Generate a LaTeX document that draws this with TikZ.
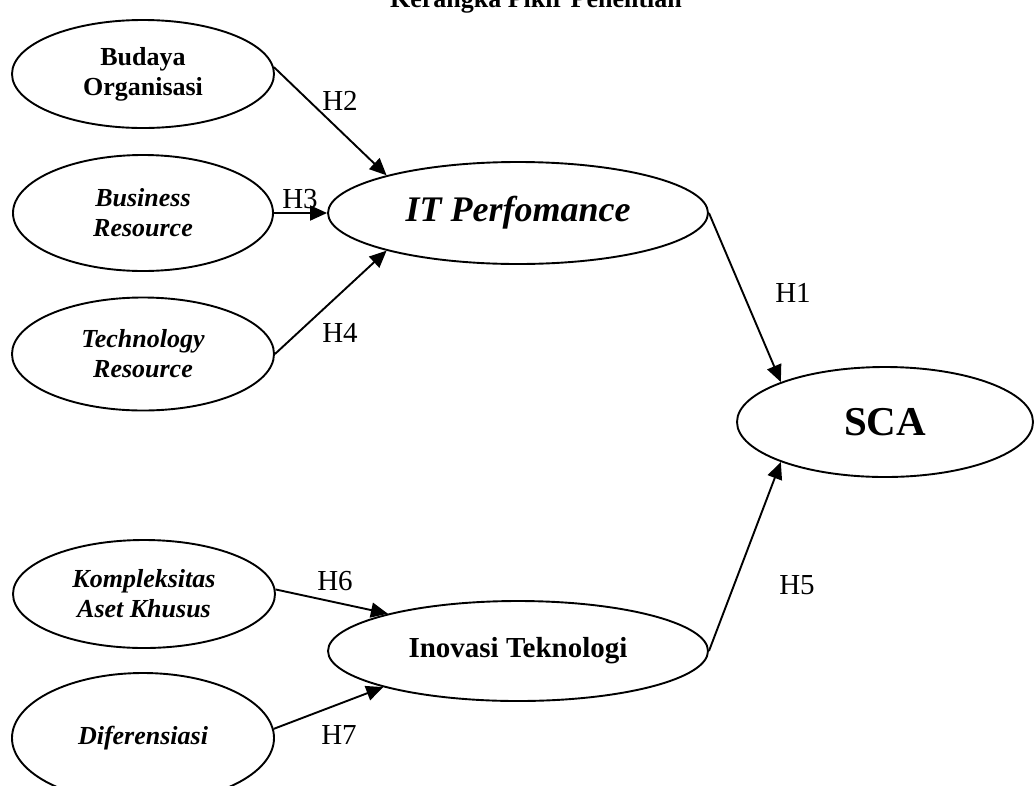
\documentclass[tikz,border=0pt]{standalone}
\usepackage{fontspec}
\setmainfont{Liberation Serif}
\usetikzlibrary{shapes.geometric,arrows.meta}
\begin{document}
\begin{tikzpicture}[x=1pt,y=-1pt,
  construct/.style={ellipse,draw,line width=1.9pt,inner sep=0pt,align=center,
    font=\fontsize{26}{30}\selectfont\bfseries},
  hyp/.style={font=\fontsize{29}{32}\selectfont,inner sep=0pt},
  path/.style={line width=1.9pt,-{Triangle[length=17pt,width=15pt]}}]
\useasboundingbox (0,0) rectangle (1035,785);

% heading (partly above the page edge)
\node[anchor=base,inner sep=0pt,font=\fontsize{26}{30}\selectfont\bfseries] (title) at (536,7) {Kerangka Pikir Penelitian};

% exogenous constructs
\node[construct,minimum width=262pt,minimum height=108pt] (bud) at (143,74) {Budaya\\Organisasi};
\node[construct,minimum width=260pt,minimum height=116pt] (bus) at (143,213) {\itshape Business\\\itshape Resource};
\node[construct,minimum width=262pt,minimum height=113pt] (tec) at (143,354) {\itshape Technology\\\itshape Resource};
\node[construct,minimum width=262pt,minimum height=108pt] (kom) at (144,594) {\itshape Kompleksitas\\\itshape Aset Khusus};
\node[construct,minimum width=262pt,minimum height=130pt] (dif) at (143,738) {\itshape Diferensiasi};

% mediating and outcome constructs
\node[construct,minimum width=380pt,minimum height=102pt,font=\fontsize{36}{40}\selectfont\bfseries\itshape] (itp) at (518,213) {IT Perfomance};
\node[construct,minimum width=380pt,minimum height=100pt,font=\fontsize{29}{32}\selectfont\bfseries] (ino) at (518,651) {Inovasi Teknologi};
\node[construct,minimum width=296pt,minimum height=110pt,font=\fontsize{41}{44}\selectfont\bfseries] (sca) at (885,422) {SCA};

% hypothesised paths
\draw[path] (bud.3) -- (itp.164);
\draw[path] (bus.east) -- (itp.west);
\draw[path] (tec.east) -- (itp.196);
\draw[path] (itp.east) -- (sca.159);
\draw[path] (ino.east) -- (sca.201.5);
\draw[path] (kom.2) -- (ino.164);
\draw[path] (dif.4) -- (ino.195);

% path labels
\node[hyp] (h2) at (340,101) {H2};
\node[hyp] (h3) at (300,199) {H3};
\node[hyp] (h4) at (340,333) {H4};
\node[hyp] (h1) at (793,293) {H1};
\node[hyp] (h5) at (797,585) {H5};
\node[hyp] (h6) at (335,581) {H6};
\node[hyp] (h7) at (339,735) {H7};
\end{tikzpicture}
\end{document}
